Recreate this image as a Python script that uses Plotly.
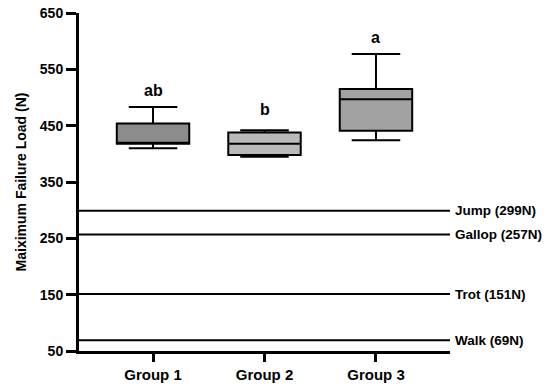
import plotly.graph_objects as go

groups = ["Group 1", "Group 2", "Group 3"]
lower = [410, 395, 424]
q1 = [418, 398, 441]
median = [418, 418, 497]
q3 = [454, 438, 515]
upper = [483, 442, 577]
letters = ["ab", "b", "a"]
letter_y = [513, 478, 607]
colors = ["#8c8c8c", "#bababa", "#a2a2a2"]

ref_names = ["Jump (299N)", "Gallop (257N)", "Trot (151N)", "Walk (69N)"]
ref_values = [299, 257, 151, 69]

y_ticks = [50, 150, 250, 350, 450, 550, 650]

FONT = "Arial, Liberation Sans, sans-serif"

fig = go.Figure()
for i, g in enumerate(groups):
    fig.add_trace(go.Box(
        x=[i], q1=[q1[i]], median=[median[i]], q3=[q3[i]],
        lowerfence=[lower[i]], upperfence=[upper[i]],
        name=g, width=0.65, whiskerwidth=0.67,
        fillcolor=colors[i], line=dict(color="#000000", width=2),
        boxpoints=False, showlegend=False, hoverinfo="skip",
    ))
    fig.add_annotation(x=i, y=letter_y[i], text=letters[i], showarrow=False,
                       font=dict(family=FONT, size=16, color="#000000", weight="bold"))

for name, v in zip(ref_names, ref_values):
    fig.add_shape(type="line", xref="paper", x0=0, x1=1, yref="y", y0=v, y1=v,
                  line=dict(color="#000000", width=2))
    fig.add_annotation(xref="paper", x=1, y=v, text=name, showarrow=False,
                       xanchor="left", xshift=3,
                       font=dict(family=FONT, size=13.5, color="#000000", weight="bold"))

fig.update_layout(
    width=550, height=392,
    margin=dict(l=79, r=100, t=13, b=41, autoexpand=False),
    paper_bgcolor="white", plot_bgcolor="white",
    font=dict(family=FONT, color="#000000"),
)
fig.update_xaxes(
    range=[-0.664, 2.664], tickmode="array", tickvals=[0, 1, 2], ticktext=groups,
    showgrid=False, zeroline=False, showline=True, linecolor="#000000", linewidth=3,
    ticks="outside", ticklen=8, tickwidth=3, tickcolor="#000000",
    tickfont=dict(family=FONT, size=15, weight="bold"),
)
fig.update_yaxes(
    range=[50, 650], tickmode="array", tickvals=y_ticks,
    showgrid=False, zeroline=False, showline=True, linecolor="#000000", linewidth=3,
    ticks="outside", ticklen=10, tickwidth=3, tickcolor="#000000",
    ticklabeloverflow="allow",
    tickfont=dict(family=FONT, size=14, weight="bold"),
    title=dict(text="Maiximum Failure Load (N)", standoff=10,
               font=dict(family=FONT, size=14, weight="bold")),
)
fig.write_html("out.html", config={"displayModeBar": False},
               post_script="document.body.style.margin='0';")
